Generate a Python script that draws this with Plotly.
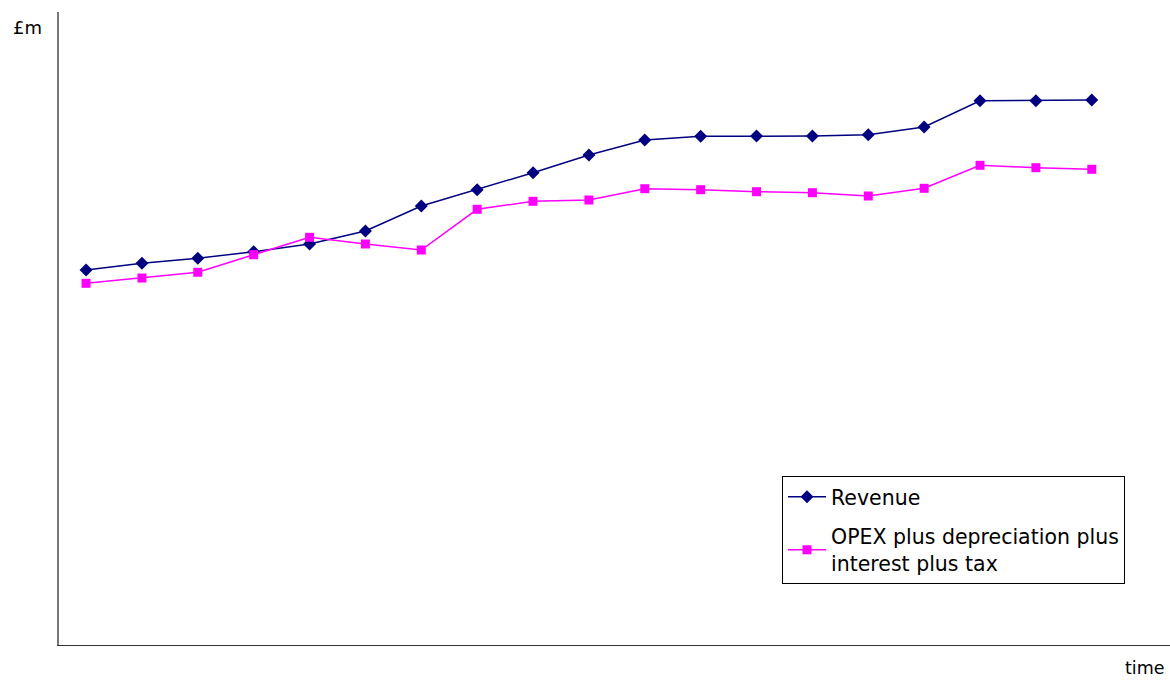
import plotly.graph_objects as go

periods = list(range(19))
revenue = [375, 381.7, 386.7, 393.3, 401, 414, 439, 455.3, 472.3, 490, 505, 508.7,
           509, 509, 510.3, 518, 544.3, 544.3, 545]
opex = [361.7, 367, 372.7, 390.3, 407.7, 401, 395, 435.7, 443.7, 445, 456.3, 455.3,
        453.3, 452.3, 449, 456.7, 479.7, 477.3, 475.7]

fig = go.Figure()
fig.add_trace(go.Scatter(
    x=periods, y=revenue, mode="lines+markers", name="Revenue",
    line=dict(color="#000080", width=1.5),
    marker=dict(symbol="diamond", size=10, color="#000080"),
    legendgroup="a",
))
fig.add_trace(go.Scatter(
    x=periods, y=opex, mode="lines+markers",
    name="OPEX plus depreciation plus<br>interest plus tax",
    line=dict(color="#FF00FF", width=1.5),
    marker=dict(symbol="square", size=9, color="#FF00FF"),
    legendgroup="b",
))

plot_l, plot_t, plot_b = 59, 12, 35
plot_w = 1170 - plot_l
plot_h = 680 - plot_t - plot_b

fig.update_layout(
    width=1170, height=680,
    margin=dict(l=plot_l, r=0, t=plot_t, b=plot_b),
    paper_bgcolor="white", plot_bgcolor="white",
    font=dict(family="DejaVu Sans, sans-serif", size=20.5, color="#000000"),
    showlegend=True,
    legend=dict(
        x=(782 - plot_l) / plot_w, y=(645 - 476) / plot_h,
        xanchor="left", yanchor="top",
        bordercolor="#000000", borderwidth=1, bgcolor="white",
        traceorder="grouped", tracegroupgap=10, itemwidth=38,
        font=dict(size=20.5),
    ),
    xaxis=dict(range=[-0.484, 19.4], showgrid=False, zeroline=False,
               showticklabels=False, ticks="", showline=True,
               linecolor="#333333", linewidth=1),
    yaxis=dict(range=[0, 633], showgrid=False, zeroline=False,
               showticklabels=False, ticks="", showline=True,
               linecolor="#777777", linewidth=1.5),
    annotations=[
        dict(text="£m", xref="paper", yref="paper", x=(11 - plot_l) / plot_w,
             y=(645 - 27) / plot_h, xanchor="left", yanchor="middle",
             showarrow=False, font=dict(size=18)),
        dict(text="time", xref="paper", yref="paper", x=(1167 - plot_l) / plot_w,
             y=(645 - 668) / plot_h, xanchor="right", yanchor="middle",
             showarrow=False, font=dict(size=17.5)),
    ],
)

fig.write_html("out.html")
